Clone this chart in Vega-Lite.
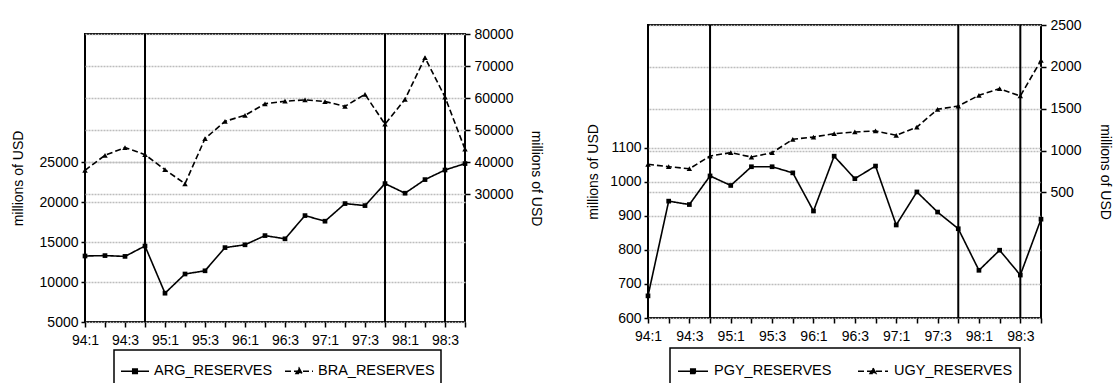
{
  "$schema": "https://vega.github.io/schema/vega-lite/v6.json",
  "padding": {"left": 10, "top": 17, "right": 0, "bottom": 0},
  "background": "white",
  "config": {
    "font": "Liberation Sans",
    "view": {"stroke": "black", "strokeWidth": 2},
    "axis": {
      "labelFont": "Liberation Sans", "labelFontSize": 14, "labelColor": "black",
      "titleFont": "Liberation Sans", "titleFontSize": 14, "titleFontWeight": "normal", "titleColor": "black",
      "tickColor": "black", "tickSize": 5, "tickWidth": 1.5, "domain": false,
      "gridColor": "#bdbdbd", "gridDash": [2, 1], "gridWidth": 1.5, "labelPadding": 3
    },
    "legend": {"layout": {"bottom": {"anchor": "middle"}}}
  },
  "datasets": {
    "reserves": [
      {"q": "94:1", "series": "ARG_RESERVES", "value": 13250},
      {"q": "94:2", "series": "ARG_RESERVES", "value": 13300},
      {"q": "94:3", "series": "ARG_RESERVES", "value": 13200},
      {"q": "94:4", "series": "ARG_RESERVES", "value": 14500},
      {"q": "95:1", "series": "ARG_RESERVES", "value": 8600},
      {"q": "95:2", "series": "ARG_RESERVES", "value": 11000},
      {"q": "95:3", "series": "ARG_RESERVES", "value": 11400},
      {"q": "95:4", "series": "ARG_RESERVES", "value": 14300},
      {"q": "96:1", "series": "ARG_RESERVES", "value": 14650},
      {"q": "96:2", "series": "ARG_RESERVES", "value": 15800},
      {"q": "96:3", "series": "ARG_RESERVES", "value": 15400},
      {"q": "96:4", "series": "ARG_RESERVES", "value": 18300},
      {"q": "97:1", "series": "ARG_RESERVES", "value": 17600},
      {"q": "97:2", "series": "ARG_RESERVES", "value": 19800},
      {"q": "97:3", "series": "ARG_RESERVES", "value": 19550},
      {"q": "97:4", "series": "ARG_RESERVES", "value": 22300},
      {"q": "98:1", "series": "ARG_RESERVES", "value": 21100},
      {"q": "98:2", "series": "ARG_RESERVES", "value": 22800},
      {"q": "98:3", "series": "ARG_RESERVES", "value": 24000},
      {"q": "98:4", "series": "ARG_RESERVES", "value": 24800},
      {"q": "94:1", "series": "BRA_RESERVES", "value": 37400},
      {"q": "94:2", "series": "BRA_RESERVES", "value": 42100},
      {"q": "94:3", "series": "BRA_RESERVES", "value": 44500},
      {"q": "94:4", "series": "BRA_RESERVES", "value": 42300},
      {"q": "95:1", "series": "BRA_RESERVES", "value": 37600},
      {"q": "95:2", "series": "BRA_RESERVES", "value": 33200},
      {"q": "95:3", "series": "BRA_RESERVES", "value": 47300},
      {"q": "95:4", "series": "BRA_RESERVES", "value": 52700},
      {"q": "96:1", "series": "BRA_RESERVES", "value": 54600},
      {"q": "96:2", "series": "BRA_RESERVES", "value": 58200},
      {"q": "96:3", "series": "BRA_RESERVES", "value": 59000},
      {"q": "96:4", "series": "BRA_RESERVES", "value": 59400},
      {"q": "97:1", "series": "BRA_RESERVES", "value": 58900},
      {"q": "97:2", "series": "BRA_RESERVES", "value": 57400},
      {"q": "97:3", "series": "BRA_RESERVES", "value": 61150},
      {"q": "97:4", "series": "BRA_RESERVES", "value": 51800},
      {"q": "98:1", "series": "BRA_RESERVES", "value": 59600},
      {"q": "98:2", "series": "BRA_RESERVES", "value": 72600},
      {"q": "98:3", "series": "BRA_RESERVES", "value": 60300},
      {"q": "98:4", "series": "BRA_RESERVES", "value": 44000},
      {"q": "94:1", "series": "PGY_RESERVES", "value": 665},
      {"q": "94:2", "series": "PGY_RESERVES", "value": 943},
      {"q": "94:3", "series": "PGY_RESERVES", "value": 933},
      {"q": "94:4", "series": "PGY_RESERVES", "value": 1017},
      {"q": "95:1", "series": "PGY_RESERVES", "value": 989},
      {"q": "95:2", "series": "PGY_RESERVES", "value": 1044},
      {"q": "95:3", "series": "PGY_RESERVES", "value": 1044},
      {"q": "95:4", "series": "PGY_RESERVES", "value": 1026},
      {"q": "96:1", "series": "PGY_RESERVES", "value": 914},
      {"q": "96:2", "series": "PGY_RESERVES", "value": 1075},
      {"q": "96:3", "series": "PGY_RESERVES", "value": 1009},
      {"q": "96:4", "series": "PGY_RESERVES", "value": 1046},
      {"q": "97:1", "series": "PGY_RESERVES", "value": 873},
      {"q": "97:2", "series": "PGY_RESERVES", "value": 970},
      {"q": "97:3", "series": "PGY_RESERVES", "value": 911},
      {"q": "97:4", "series": "PGY_RESERVES", "value": 862},
      {"q": "98:1", "series": "PGY_RESERVES", "value": 740},
      {"q": "98:2", "series": "PGY_RESERVES", "value": 799},
      {"q": "98:3", "series": "PGY_RESERVES", "value": 726},
      {"q": "98:4", "series": "PGY_RESERVES", "value": 890},
      {"q": "94:1", "series": "UGY_RESERVES", "value": 836},
      {"q": "94:2", "series": "UGY_RESERVES", "value": 807},
      {"q": "94:3", "series": "UGY_RESERVES", "value": 783},
      {"q": "94:4", "series": "UGY_RESERVES", "value": 935},
      {"q": "95:1", "series": "UGY_RESERVES", "value": 975},
      {"q": "95:2", "series": "UGY_RESERVES", "value": 923},
      {"q": "95:3", "series": "UGY_RESERVES", "value": 975},
      {"q": "95:4", "series": "UGY_RESERVES", "value": 1135},
      {"q": "96:1", "series": "UGY_RESERVES", "value": 1162},
      {"q": "96:2", "series": "UGY_RESERVES", "value": 1201},
      {"q": "96:3", "series": "UGY_RESERVES", "value": 1222},
      {"q": "96:4", "series": "UGY_RESERVES", "value": 1234},
      {"q": "97:1", "series": "UGY_RESERVES", "value": 1182},
      {"q": "97:2", "series": "UGY_RESERVES", "value": 1281},
      {"q": "97:3", "series": "UGY_RESERVES", "value": 1493},
      {"q": "97:4", "series": "UGY_RESERVES", "value": 1532},
      {"q": "98:1", "series": "UGY_RESERVES", "value": 1660},
      {"q": "98:2", "series": "UGY_RESERVES", "value": 1739},
      {"q": "98:3", "series": "UGY_RESERVES", "value": 1652},
      {"q": "98:4", "series": "UGY_RESERVES", "value": 2078}
    ],
    "breaks": [
      {"panel": "L", "q": "94:4"},
      {"panel": "L", "q": "97:4"},
      {"panel": "L", "q": "98:3"},
      {"panel": "R", "q": "94:4"},
      {"panel": "R", "q": "97:4"},
      {"panel": "R", "q": "98:3"}
    ]
  },
  "spacing": 41,
  "resolve": {"scale": {"strokeDash": "independent"}, "legend": {"strokeDash": "independent"}},
  "hconcat": [
    {
      "spacing": 0,
      "vconcat": [
        {
          "width": 380,
          "height": 1,
          "data": {"values": []},
          "mark": {"type": "point", "opacity": 0},
          "view": {"stroke": null}
        },
        {
          "width": 380,
          "height": 288,
          "encoding": {
            "x": {
              "field": "q", "type": "ordinal",
              "scale": {"type": "point", "padding": 0, "domain": ["94:1","94:2","94:3","94:4","95:1","95:2","95:3","95:4","96:1","96:2","96:3","96:4","97:1","97:2","97:3","97:4","98:1","98:2","98:3","98:4"]},
              "axis": {"title": null, "labelAngle": 0, "grid": false, "labelPadding": 6, "labelExpr": "indexof(datum.value, ':1') > 0 || indexof(datum.value, ':3') > 0 ? datum.value : ''"}
            }
          },
          "layer": [
            {
              "data": {"name": "reserves"},
              "transform": [{"filter": "datum.series == 'ARG_RESERVES'"}],
              "encoding": {
                "y": {"field": "value", "type": "quantitative",
                  "scale": {"domain": [5000, 41000], "nice": false, "zero": false},
                  "axis": {"title": "millions of USD", "values": [5000, 10000, 15000, 20000, 25000], "format": "d", "grid": true, "tickSize": 4, "titlePadding": 14}}
              },
              "layer": [
                {"mark": {"type": "line", "color": "black", "strokeWidth": 1.6},
                  "encoding": {"strokeDash": {"field": "series", "type": "nominal",
                    "scale": {"domain": ["ARG_RESERVES", "BRA_RESERVES"], "range": [[1, 0], [6, 3]]},
                    "legend": {"title": null, "orient": "bottom", "direction": "horizontal", "strokeColor": "black", "padding": 6, "offset": 2,
                      "symbolSize": 784, "symbolStrokeWidth": 1.6, "symbolStrokeColor": "black", "symbolFillColor": "black",
                      "labelFontSize": 14.5, "labelColor": "black", "labelFont": "Liberation Sans", "columnPadding": 8, "labelOffset": 4,
                      "symbolType": "M-1,0L1,0",
                      "encode": {
                        "symbols": {"update": {"shape": {"signal": "datum.value == 'ARG_RESERVES' ? 'M-1,0L1,0M-0.16,-0.16L0.16,-0.16L0.16,0.16L-0.16,0.16Z' : 'M-1,0L1,0M0,-0.23L0.21,0.15L-0.21,0.15Z'"}}},
                        "legend": {"update": {"strokeWidth": {"value": 1.5}}}
                      }}}}},
                {"mark": {"type": "point", "shape": "square", "filled": true, "color": "black", "size": 22, "opacity": 1}}
              ]
            },
            {
              "data": {"name": "reserves"},
              "transform": [{"filter": "datum.series == 'BRA_RESERVES'"}],
              "encoding": {
                "y": {"field": "value", "type": "quantitative",
                  "scale": {"domain": [-10000, 80000], "nice": false, "zero": false},
                  "axis": {"orient": "right", "title": "millions of USD", "values": [30000, 40000, 50000, 60000, 70000, 80000], "format": "d", "grid": true, "tickSize": 5, "labelPadding": 4, "titlePadding": 16}}
              },
              "layer": [
                {"mark": {"type": "line", "color": "black", "strokeWidth": 1.6},
                  "encoding": {"strokeDash": {"field": "series", "type": "nominal",
                    "scale": {"domain": ["ARG_RESERVES", "BRA_RESERVES"], "range": [[1, 0], [6, 3]]}}}},
                {"mark": {"type": "point", "shape": "triangle-up", "filled": true, "color": "black", "size": 30, "opacity": 1}}
              ]
            },
            {
              "data": {"name": "breaks"},
              "transform": [{"filter": "datum.panel == 'L'"}],
              "mark": {"type": "rule", "color": "black", "strokeWidth": 2}
            }
          ],
          "resolve": {"scale": {"y": "independent"}}
        }
      ]
    },
    {
      "width": 393,
      "height": 293,
      "encoding": {
        "x": {
          "field": "q", "type": "ordinal",
          "scale": {"type": "point", "padding": 0, "domain": ["94:1","94:2","94:3","94:4","95:1","95:2","95:3","95:4","96:1","96:2","96:3","96:4","97:1","97:2","97:3","97:4","98:1","98:2","98:3","98:4"]},
          "axis": {"title": null, "labelAngle": 0, "grid": false, "labelPadding": 6, "labelExpr": "indexof(datum.value, ':1') > 0 || indexof(datum.value, ':3') > 0 ? datum.value : ''"}
        }
      },
      "layer": [
        {
          "data": {"name": "reserves"},
          "transform": [{"filter": "datum.series == 'PGY_RESERVES'"}],
          "encoding": {
            "y": {"field": "value", "type": "quantitative",
              "scale": {"domain": [600, 1460], "nice": false, "zero": false},
              "axis": {"title": "millions of USD", "values": [600, 700, 800, 900, 1000, 1100], "format": "d", "grid": true, "tickSize": 4, "titlePadding": 9}}
          },
          "layer": [
            {"mark": {"type": "line", "color": "black", "strokeWidth": 1.6},
              "encoding": {"strokeDash": {"field": "series", "type": "nominal",
                "scale": {"domain": ["PGY_RESERVES", "UGY_RESERVES"], "range": [[1, 0], [6, 3]]},
                "legend": {"title": null, "orient": "bottom", "direction": "horizontal", "strokeColor": "black", "padding": 7, "offset": 5,
                  "symbolSize": 900, "symbolStrokeWidth": 1.6, "symbolStrokeColor": "black", "symbolFillColor": "black",
                  "labelFontSize": 14.5, "labelColor": "black", "labelFont": "Liberation Sans", "columnPadding": 22, "labelOffset": 5,
                  "symbolType": "M-1,0L1,0",
                  "encode": {
                    "symbols": {"update": {"shape": {"signal": "datum.value == 'PGY_RESERVES' ? 'M-1,0L1,0M-0.15,-0.15L0.15,-0.15L0.15,0.15L-0.15,0.15Z' : 'M-1,0L1,0M0,-0.21L0.19,0.14L-0.19,0.14Z'"}}},
                    "legend": {"update": {"strokeWidth": {"value": 1.5}}}
                  }}}}},
            {"mark": {"type": "point", "shape": "square", "filled": true, "color": "black", "size": 22, "opacity": 1}}
          ]
        },
        {
          "data": {"name": "reserves"},
          "transform": [{"filter": "datum.series == 'UGY_RESERVES'"}],
          "encoding": {
            "y": {"field": "value", "type": "quantitative",
              "scale": {"domain": [-1000, 2500], "nice": false, "zero": false},
              "axis": {"orient": "right", "title": "millions of USD", "values": [500, 1000, 1500, 2000, 2500], "format": "d", "grid": true, "tickSize": 5, "labelPadding": 4, "titlePadding": 16}}
          },
          "layer": [
            {"mark": {"type": "line", "color": "black", "strokeWidth": 1.6},
              "encoding": {"strokeDash": {"field": "series", "type": "nominal",
                "scale": {"domain": ["PGY_RESERVES", "UGY_RESERVES"], "range": [[1, 0], [6, 3]]}}}},
            {"mark": {"type": "point", "shape": "triangle-up", "filled": true, "color": "black", "size": 30, "opacity": 1}}
          ]
        },
        {
          "data": {"name": "breaks"},
          "transform": [{"filter": "datum.panel == 'R'"}],
          "mark": {"type": "rule", "color": "black", "strokeWidth": 2}
        }
      ],
      "resolve": {"scale": {"y": "independent"}}
    }
  ]
}
